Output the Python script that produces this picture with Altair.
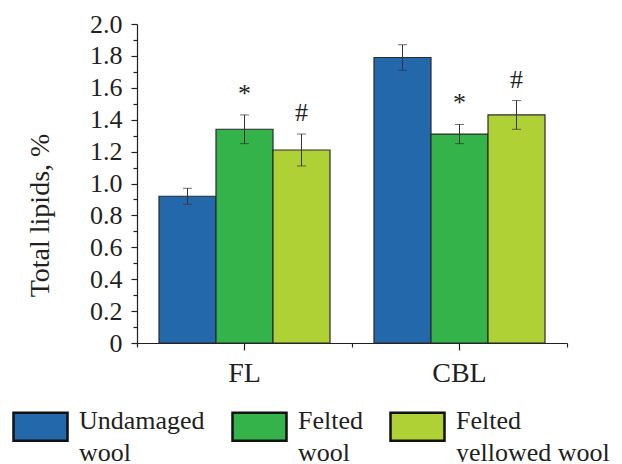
import altair as alt
import pandas as pd

groups = ["FL", "CBL"]
series = ["Undamaged wool", "Felted wool", "Felted yellowed wool"]
fl_values = [0.92, 1.34, 1.21]
cbl_values = [1.79, 1.31, 1.43]
fl_errors = [0.05, 0.09, 0.10]
cbl_errors = [0.08, 0.06, 0.09]
fl_marks = ["", "*", "#"]
cbl_marks = ["", "*", "#"]
colors = ["#2468AC", "#33B34A", "#AFD136"]
major_y_ticks = [0, 0.2, 0.4, 0.6, 0.8, 1.0, 1.2, 1.4, 1.6, 1.8, 2.0]
minor_y_ticks = [0.1, 0.3, 0.5, 0.7, 0.9, 1.1, 1.3, 1.5, 1.7, 1.9]

rows = []
for g, vals, errs, mks in [("FL", fl_values, fl_errors, fl_marks),
                           ("CBL", cbl_values, cbl_errors, cbl_marks)]:
    for s, v, e, m in zip(series, vals, errs, mks):
        rows.append({"group": g, "series": s, "value": v,
                     "lower": round(v - e, 3), "upper": round(v + e, 3), "mark": m})
df = pd.DataFrame(rows)

FONT = "Liberation Serif"
INK = "#231f20"


def yscale():
    return alt.Scale(domain=[0, 2], nice=False, zero=True)


x_main = alt.X("group:N", sort=groups,
               scale=alt.Scale(paddingInner=0, paddingOuter=0),
               axis=alt.Axis(title=None, labelFontSize=28, labelPadding=9,
                             tickSize=7, labelAngle=0))
x_off = alt.XOffset("series:N", sort=series,
                    scale=alt.Scale(paddingInner=0, paddingOuter=0.386))

legend = alt.Legend(
    title=None, orient="none", legendX=-125, legendY=368,
    direction="horizontal", columns=3,
    symbolType="M-1,-0.30L1,-0.30L1,0.74L-1,0.74Z", symbolSize=2916,
    symbolStrokeColor="#111111", symbolStrokeWidth=2.5,
    labelFontSize=26, labelFont=FONT, labelColor=INK, labelLimit=400,
    labelOffset=10, columnPadding=22, labelBaseline="middle",
    labelExpr="[substring(datum.label, 0, indexof(datum.label, ' ')), substring(datum.label, indexof(datum.label, ' ') + 1)]",
)

base = alt.Chart(df)

bars = base.mark_bar(stroke="#2a2a2a", strokeWidth=1.2).encode(
    x=x_main, xOffset=x_off,
    y=alt.Y("value:Q", scale=yscale(), axis=None),
    fill=alt.Fill("series:N", sort=series,
                  scale=alt.Scale(domain=series, range=colors), legend=legend),
)
err = base.mark_rule(color="#333333", strokeWidth=1).encode(
    x=x_main, xOffset=x_off,
    y=alt.Y("lower:Q", scale=yscale(), axis=None), y2="upper:Q")
cap_u = base.mark_tick(color="#333333", thickness=1, size=9).encode(
    x=x_main, xOffset=x_off, y=alt.Y("upper:Q", scale=yscale(), axis=None))
cap_l = base.mark_tick(color="#333333", thickness=1, size=9).encode(
    x=x_main, xOffset=x_off, y=alt.Y("lower:Q", scale=yscale(), axis=None))
notes = base.mark_text(font=FONT, fontSize=26, baseline="alphabetic", dy=-13,
                       color=INK).encode(
    x=x_main, xOffset=x_off, y=alt.Y("upper:Q", scale=yscale(), axis=None),
    text="mark:N")

inner = alt.layer(bars, err, cap_u, cap_l, notes)

minor_x = base.mark_tick(opacity=0).encode(
    x=alt.X("group:N", sort=groups,
            scale=alt.Scale(paddingInner=0, paddingOuter=0),
            axis=alt.Axis(orient="bottom", tickBand="extent", labels=False,
                          domain=False, tickSize=4, title=None)))

major_y = base.mark_tick(opacity=0).encode(
    y=alt.Y("value:Q", scale=yscale(),
            axis=alt.Axis(orient="left", values=major_y_ticks, grid=False,
                          labelOverlap=False, labelBound=False,
                          labelExpr="datum.value == 0 ? '0' : format(datum.value, '.1f')",
                          tickSize=6, labelPadding=9, labelFontSize=26,
                          title="Total lipids, %", titleFontSize=28,
                          titleFontWeight="normal", titleX=-89, titleY=191,
                          titleBaseline="alphabetic", titleAlign="center")))

minor_y = base.mark_tick(opacity=0).encode(
    y=alt.Y("value:Q", scale=yscale(),
            axis=alt.Axis(orient="left", values=minor_y_ticks, labels=False,
                          domain=False, tickSize=4, title=None, grid=False)))

chart = alt.layer(inner, minor_x, major_y, minor_y).resolve_scale(
    x="independent", y="independent"
).properties(
    width=430, height=319,
    autosize=alt.AutoSizeParams(type="none"),
    padding={"left": 129, "top": 16, "right": 46, "bottom": 119},
    background="white",
).configure(
    style={"guide-label": {"lineHeight": 32}}
).configure_view(stroke=None).configure_axis(
    labelFont=FONT, titleFont=FONT, labelColor=INK, titleColor=INK,
    domainColor=INK, tickColor=INK, domainWidth=1.2, tickWidth=1.2,
).configure_axisY(labelOverlap=False)

chart.save("out.html", embed_options={"renderer": "svg", "actions": False})
